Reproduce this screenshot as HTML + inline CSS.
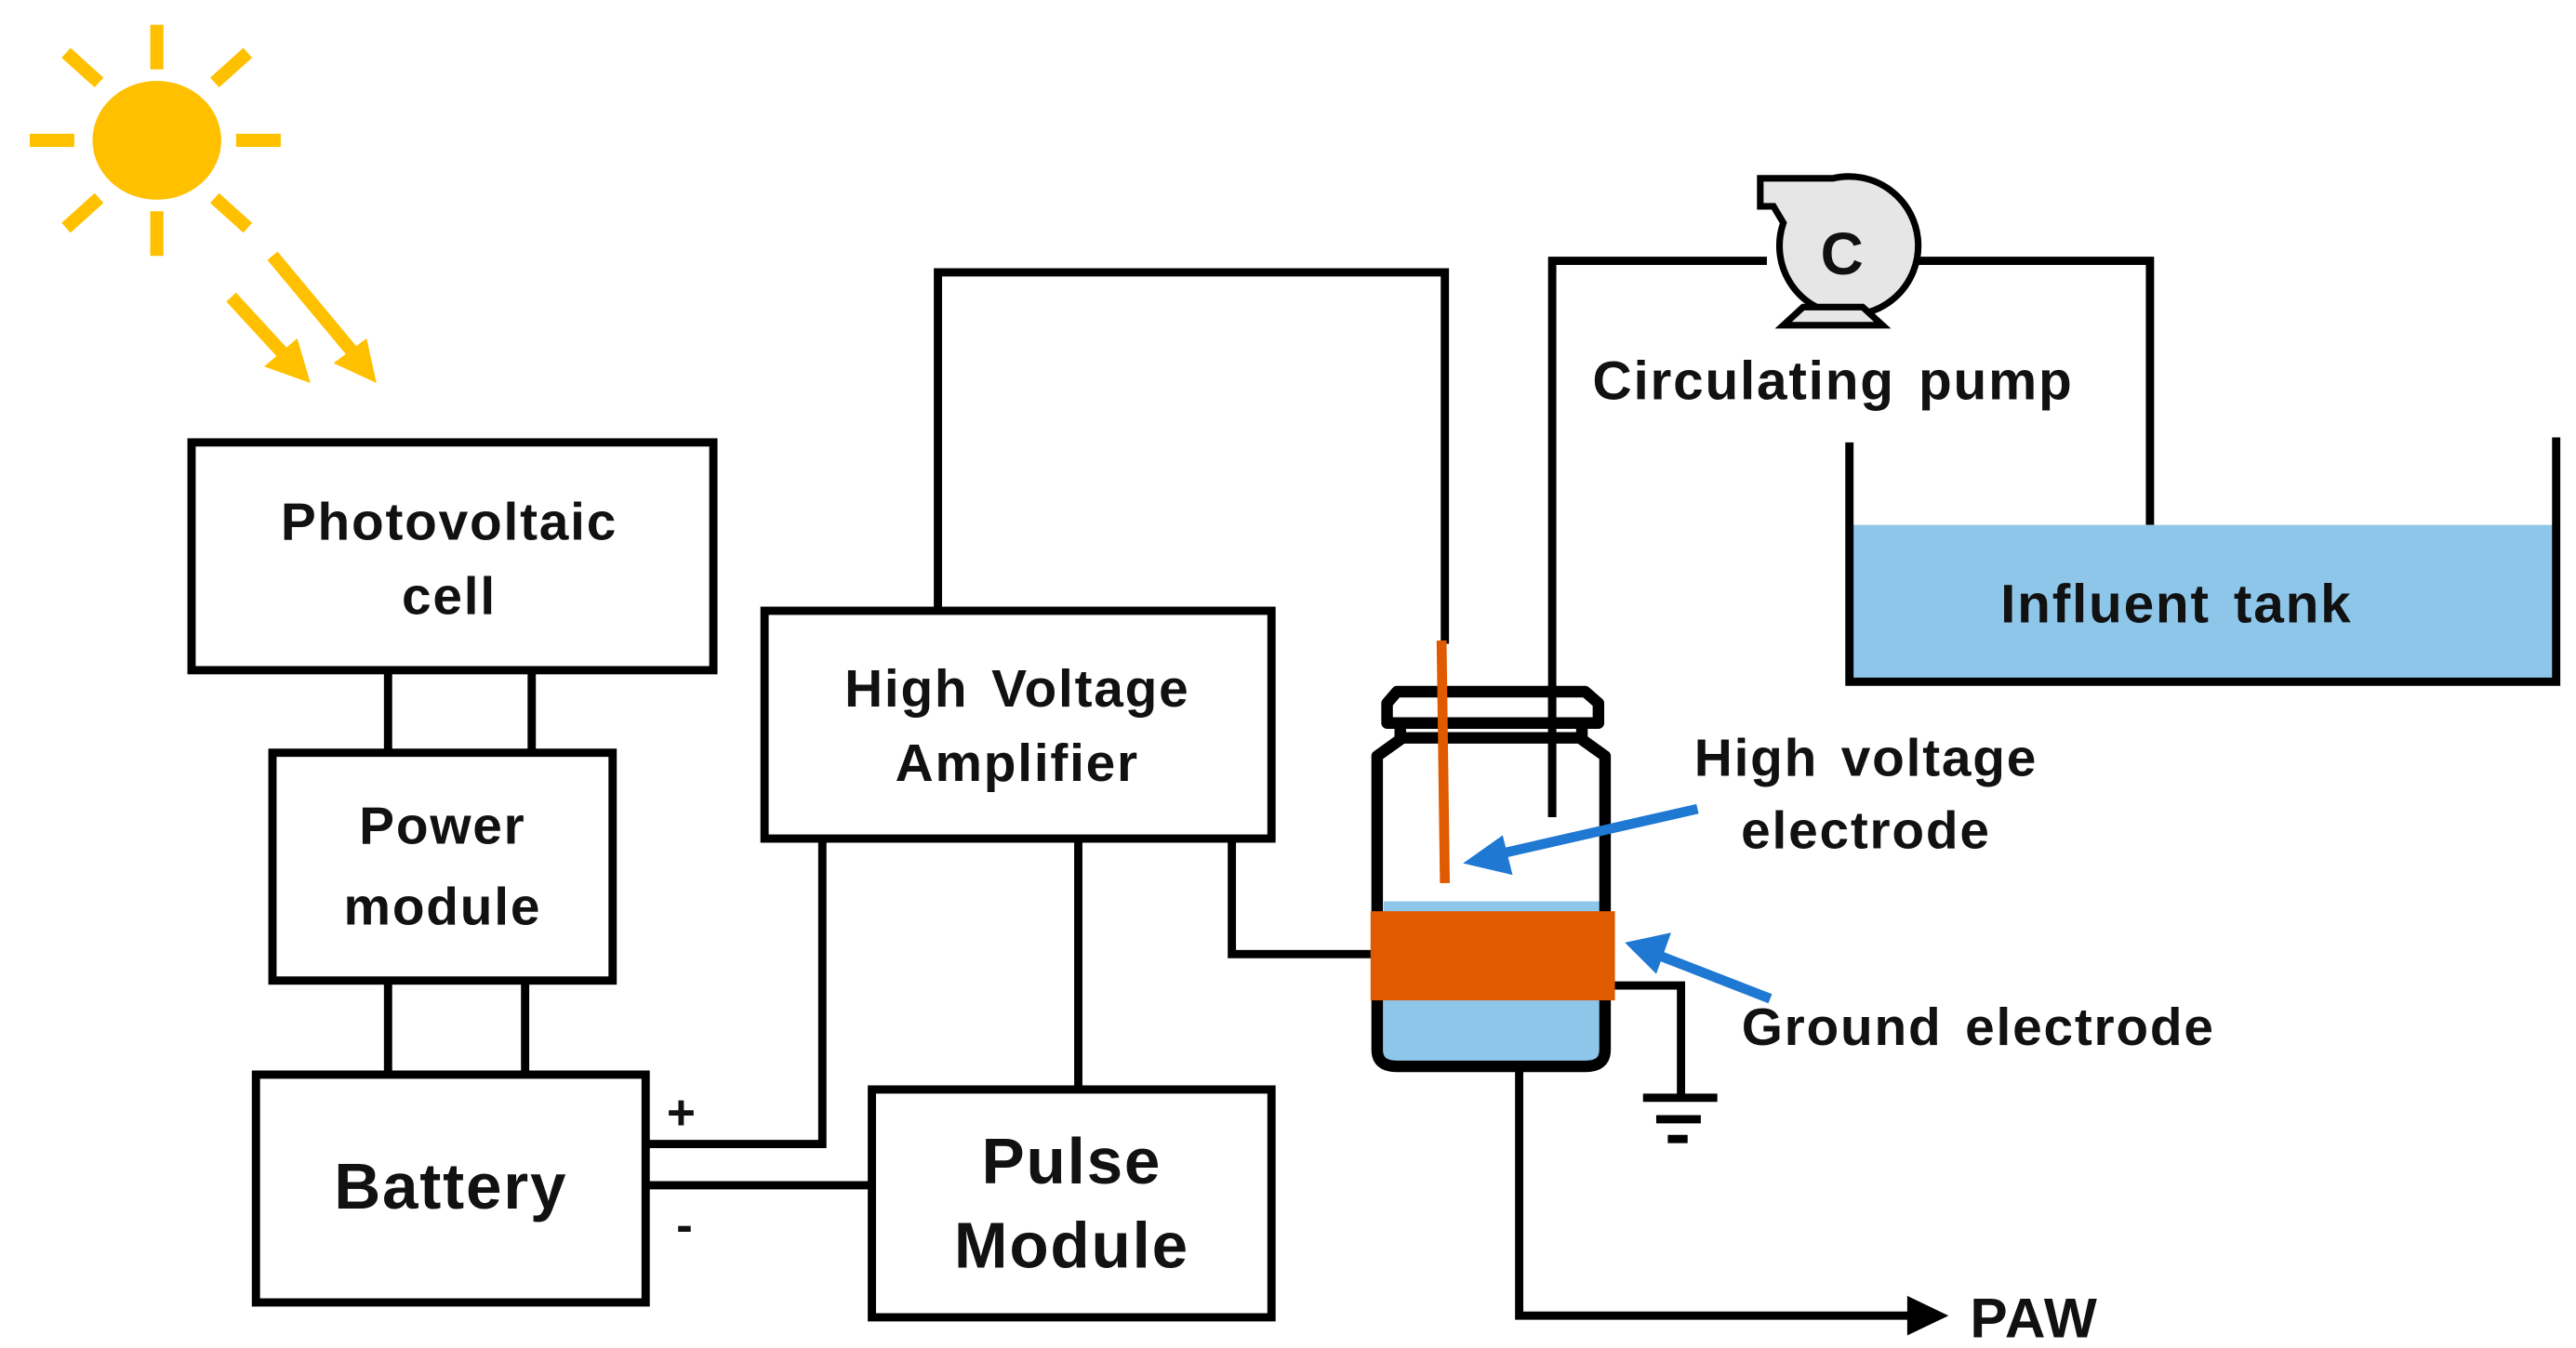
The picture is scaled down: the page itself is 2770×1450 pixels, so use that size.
<!DOCTYPE html>
<html><head><meta charset="utf-8"><style>
html,body{margin:0;padding:0;background:#fff;}
svg{display:block;}
text{font-family:"Liberation Sans",Arial,sans-serif;font-weight:bold;fill:#111;letter-spacing:1px;word-spacing:4px;}
</style></head><body>
<svg width="2770" height="1450" viewBox="0 0 1560 816.6" preserveAspectRatio="none" xmlns="http://www.w3.org/2000/svg">
<rect x="0" y="0" width="1560" height="817" fill="#fff"/>
<g stroke="#FFC000" stroke-width="8" fill="none">
<line x1="95" y1="15" x2="95" y2="42"/>
<line x1="95" y1="128" x2="95" y2="155"/>
<line x1="18" y1="85" x2="45" y2="85"/>
<line x1="143" y1="85" x2="170" y2="85"/>
<line x1="40" y1="32" x2="60" y2="50"/>
<line x1="130" y1="50" x2="150" y2="32"/>
<line x1="40" y1="138" x2="60" y2="120"/>
<line x1="130" y1="120" x2="150" y2="138"/>
<line x1="140" y1="180" x2="175" y2="218"/>
<line x1="165" y1="155" x2="215" y2="215"/>
</g>
<ellipse cx="95" cy="85" rx="39" ry="36" fill="#FFC000"/>
<polygon points="188,232 160,222 180,205" fill="#FFC000"/>
<polygon points="228,232 202,220 222,205" fill="#FFC000"/>
<g stroke="#000" stroke-width="5" fill="none">
<line x1="235" y1="406" x2="235" y2="456"/><line x1="322" y1="406" x2="322" y2="456"/>
<line x1="235" y1="594" x2="235" y2="651"/><line x1="318" y1="594" x2="318" y2="651"/>
<polyline points="568,370 568,165 875,165 875,390"/>
<polyline points="391,693 498,693 498,508"/>
<polyline points="391,718 528,718"/>
<line x1="653" y1="508" x2="653" y2="660"/>
<polyline points="746,508 746,578 832,578"/>
<polyline points="940,495 940,158 1070,158"/>
<polyline points="1150,158 1302,158 1302,318"/>
<polyline points="975,597 1018,597 1018,665"/>
<line x1="995" y1="665" x2="1040" y2="665"/>
<line x1="1003" y1="678" x2="1030" y2="678"/>
<line x1="1010" y1="690" x2="1022" y2="690"/>
<polyline points="920,648 920,797 1160,797"/>
</g>
<polygon points="1180,797 1155,785 1155,809" fill="#000"/>
<g stroke="#000" stroke-width="5" fill="#fff">
<rect x="116" y="268" width="316" height="138"/>
<rect x="165" y="456" width="206" height="138"/>
<rect x="155" y="651" width="236" height="138"/>
<rect x="463" y="370" width="307" height="138"/>
<rect x="528" y="660" width="242" height="138"/>
</g>
<text x="272" y="327" font-size="32" text-anchor="middle">Photovoltaic</text>
<text x="272" y="372" font-size="32" text-anchor="middle">cell</text>
<text x="268" y="511" font-size="32" text-anchor="middle">Power</text>
<text x="268" y="560" font-size="32" text-anchor="middle">module</text>
<text x="273" y="732" font-size="39" text-anchor="middle">Battery</text>
<text x="616" y="428" font-size="32" text-anchor="middle">High Voltage</text>
<text x="616" y="473" font-size="32" text-anchor="middle">Amplifier</text>
<text x="649" y="717" font-size="39" text-anchor="middle">Pulse</text>
<text x="649" y="768" font-size="39" text-anchor="middle">Module</text>
<text x="413" y="684" font-size="30" text-anchor="middle">+</text>
<text x="415" y="752" font-size="30" text-anchor="middle">-</text>
<rect x="1122" y="318" width="425" height="93" fill="#8EC6EA"/>
<polyline points="1120,268 1120,413 1548,413 1548,265" stroke="#000" stroke-width="5" fill="none"/>
<text x="1318" y="377" font-size="33" text-anchor="middle">Influent tank</text>
<path d="M1066,108 L1110,108 A42,42 0 1 1 1080,135 L1074,125 L1066,125 Z" fill="#e6e6e6" stroke="#000" stroke-width="4"/>
<polygon points="1092,186 1080,197 1140,197 1128,186" fill="#e6e6e6" stroke="#000" stroke-width="4"/>
<text x="1116" y="166" font-size="36" text-anchor="middle">C</text>
<text x="1110" y="242" font-size="33" text-anchor="middle">Circulating pump</text>
<path d="M838,546 L970,546 L970,636 Q970,645 960,645 L846,645 Q836,645 836,636 Z" fill="#8EC6EA"/>
<path d="M848,440 L848,448 L834,458 L834,636 Q834,646 846,646 L960,646 Q972,646 972,636 L972,458 L958,448 L958,440" fill="none" stroke="#000" stroke-width="7" stroke-linejoin="round"/>
<path d="M846,419 L960,419 L968,426 L968,438 L840,438 L840,426 Z" fill="none" stroke="#000" stroke-width="7" stroke-linejoin="round"/>
<line x1="848" y1="447" x2="958" y2="447" stroke="#000" stroke-width="7"/>
<line x1="940" y1="415" x2="940" y2="495" stroke="#000" stroke-width="5"/>
<line x1="873" y1="388" x2="875" y2="535" stroke="#E05A00" stroke-width="6"/>
<rect x="830" y="552" width="148" height="54" fill="#E05A00"/>
<line x1="1028" y1="490" x2="905" y2="518" stroke="#1F78D1" stroke-width="6"/>
<polygon points="886,523 910,506 916,530" fill="#1F78D1"/>
<line x1="1072" y1="605" x2="1000" y2="577" stroke="#1F78D1" stroke-width="6"/>
<polygon points="984,571 1012,565 1003,590" fill="#1F78D1"/>
<text x="1130" y="470" font-size="32" text-anchor="middle">High voltage</text>
<text x="1130" y="514" font-size="32" text-anchor="middle">electrode</text>
<text x="1198" y="633" font-size="32" text-anchor="middle">Ground electrode</text>
<text x="1193" y="810" font-size="34">PAW</text>
</svg>
</body></html>
